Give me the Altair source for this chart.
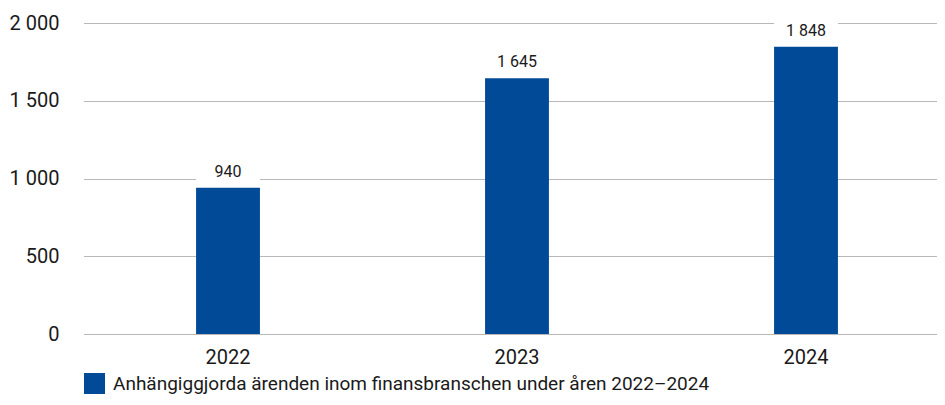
import altair as alt
import pandas as pd

years = ["2022", "2023", "2024"]
values = [940, 1645, 1848]
series_name = "Anhängiggjorda ärenden inom finansbranschen under åren 2022–2024"

df = pd.DataFrame({"year": years, "value": values, "series": [series_name] * 3})

FONT = "Roboto"
BLUE = "#004a98"

x_enc = alt.X(
    "year:N",
    sort=years,
    title=None,
    scale=alt.Scale(range=[-2.5, 864.5], paddingInner=0.779, paddingOuter=0.3895),
    axis=alt.Axis(labelAngle=0, labelFontSize=20, labelFont=FONT, labelColor="#1a1a1a",
                  ticks=False, domain=False, labelPadding=13),
)

y_scale = alt.Scale(domain=[0, 2000], nice=False)

base = alt.Chart(df)

bars = base.mark_bar(color=BLUE).encode(
    x=x_enc,
    y=alt.Y(
        "value:Q",
        scale=y_scale,
        title=None,
        axis=alt.Axis(values=[0, 500, 1000, 1500, 2000], labelFontSize=20, labelFont=FONT,
                      labelColor="#1a1a1a", ticks=False, domain=False, labelPadding=27,
                      gridColor="#b8b8b8", gridWidth=1.2,
                      labelExpr="replace(format(datum.value, ',d'), ',', ' ')"),
    ),
    color=alt.Color(
        "series:N",
        scale=alt.Scale(range=[BLUE]),
        legend=alt.Legend(title=None, orient="none", legendX=-2, legendY=350,
                          symbolType="square", symbolSize=441, symbolStrokeWidth=0,
                          labelFontSize=19, labelFont=FONT, labelColor="#1a1a1a",
                          labelLimit=800, padding=0, symbolOffset=0, labelOffset=8),
    ),
)

masks = base.transform_calculate(top="datum.value + 165").mark_bar(color="white").encode(
    x=x_enc,
    y=alt.Y("value:Q", scale=y_scale),
    y2="top:Q",
)

labels = base.transform_calculate(
    lab="replace(format(datum.value, ',d'), ',', ' ')"
).mark_text(baseline="bottom", dy=-8, fontSize=16, font=FONT, color="#1a1a1a").encode(
    x=x_enc,
    y=alt.Y("value:Q", scale=y_scale),
    text="lab:N",
)

chart = alt.layer(masks, bars, labels).properties(
    width=851,
    height=311,
    autosize=alt.AutoSizeParams(type="none"),
    padding={"left": 78, "top": 15, "right": 0, "bottom": 63},
).configure_view(stroke=None)

chart.save("out.html", embed_options={"renderer": "svg", "actions": False})
